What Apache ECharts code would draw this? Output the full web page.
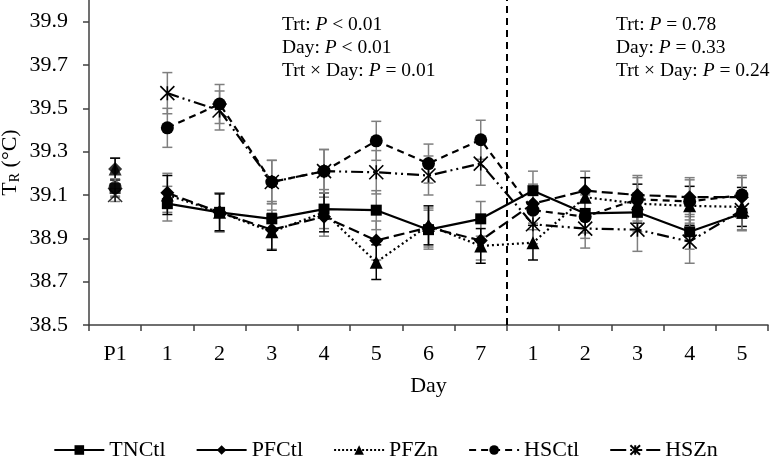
<!DOCTYPE html>
<html>
<head>
<meta charset="utf-8">
<script src="https://cdn.jsdelivr.net/npm/echarts@6/dist/echarts.min.js"></script>
<style>html,body{margin:0;padding:0;background:#fff;}#c{width:771px;height:465px;}</style>
</head>
<body>
<div id="c"></div>
<script>
const categories = ['P1','1','2','3','4','5','6','7','1','2','3','4','5'];
const yTicks = [38.5, 38.7, 38.9, 39.1, 39.3, 39.5, 39.7, 39.9];

const TNCtl = [39.13, 39.06, 39.02, 38.99, 39.035, 39.03, 38.94, 38.99, 39.12, 39.015, 39.02, 38.93, 39.015];
const PFCtl = [39.22, 39.11, 39.02, 38.94, 39.00, 38.89, 38.95, 38.89, 39.06, 39.12, 39.10, 39.09, 39.09];
const PFZn  = [39.22, 39.10, 39.02, 38.93, 39.02, 38.79, 38.96, 38.865, 38.88, 39.09, 39.06, 39.05, 39.045];
const HSCtl = [39.135, 39.41, 39.52, 39.16, 39.21, 39.35, 39.245, 39.355, 39.03, 39.00, 39.08, 39.07, 39.10];
const HSZn  = [39.10, 39.57, 39.49, 39.16, 39.21, 39.205, 39.19, 39.245, 38.965, 38.945, 38.94, 38.885, 39.03];

const TNCtlSE = [0.04, 0.08, 0.09, 0.08, 0.09, 0.09, 0.09, 0.08, 0.09, 0.09, 0.09, 0.08, 0.08];
const PFCtlSE = [0.05, 0.09, 0.09, 0.09, 0.09, 0.09, 0.09, 0.09, 0.09, 0.09, 0.09, 0.09, 0.09];
const PFZnSE  = [0.05, 0.09, 0.085, 0.085, 0.09, 0.08, 0.09, 0.08, 0.08, 0.09, 0.09, 0.09, 0.09];
const HSCtlSE = [0.04, 0.09, 0.09, 0.10, 0.10, 0.09, 0.09, 0.09, 0.09, 0.10, 0.10, 0.10, 0.09];
const HSZnSE  = [0.03, 0.095, 0.09, 0.10, 0.10, 0.10, 0.09, 0.10, 0.09, 0.09, 0.10, 0.10, 0.09];

const dividerAt = 8; // boundary between period 1 and period 2 (category index)

const FONT = '"Liberation Serif", "Times New Roman", serif';

const seriesDefs = [
  {name:'TNCtl', data:TNCtl, se:TNCtlSE, symbol:'rect', size:11, dash:'solid', legendDash:'solid', errColor:'#7f7f7f'},
  {name:'PFCtl', data:PFCtl, se:PFCtlSE, symbol:'diamond', size:14, dash:[11,5], legendDash:'solid', errColor:'#7f7f7f'},
  {name:'PFZn',  data:PFZn,  se:PFZnSE,  symbol:'triangle', size:13, dash:[2,3], legendDash:[2,2], errColor:'#000'},
  {name:'HSCtl', data:HSCtl, se:HSCtlSE, symbol:'circle', size:13, dash:[7,5], legendDash:[7,5], errColor:'#7f7f7f'},
  {name:'HSZn',  data:HSZn,  se:HSZnSE,  symbol:'path://M0,0L10,10M10,0L0,10M5,0L5,10', size:14, dash:[12,4,2,4,2,4], legendDash:[16,4,2,4,6,4], errColor:'#7f7f7f'}
];

const series = [];
seriesDefs.forEach(function(d){
  series.push({
    type:'custom', name:d.name + ' SE', silent:true, z:1,
    data: d.data.map(function(v,i){ return [i, v - d.se[i], v + d.se[i]]; }),
    renderItem: function(params, api){
      const lo = api.coord([api.value(0), api.value(1)]);
      const hi = api.coord([api.value(0), api.value(2)]);
      const w = 5;
      const st = {stroke:d.errColor, lineWidth:1.5};
      return {type:'group', children:[
        {type:'line', shape:{x1:lo[0], y1:lo[1], x2:hi[0], y2:hi[1]}, style:st},
        {type:'line', shape:{x1:lo[0]-w, y1:lo[1], x2:lo[0]+w, y2:lo[1]}, style:st},
        {type:'line', shape:{x1:hi[0]-w, y1:hi[1], x2:hi[0]+w, y2:hi[1]}, style:st}
      ]};
    }
  });
  const isPath = d.symbol.indexOf('path://') === 0;
  const itemStyle = isPath ? {color:'rgba(0,0,0,0)', borderColor:'#000', borderWidth:1.6} : {color:'#000', borderColor:'#000', borderWidth:0};
  series.push({
    type:'line', name:d.name, z:3,
    data: d.data.map(function(v,i){ return i === 0 ? '-' : v; }),
    symbol:d.symbol, symbolSize:d.size, showAllSymbol:true,
    connectNulls:false,
    lineStyle:{color:'#000', width:2.2, type:d.dash},
    itemStyle:itemStyle,
    emphasis:{disabled:true}
  });
  series.push({
    type:'scatter', name:d.name, z:3,
    data: [[0, d.data[0]]],
    symbol:d.symbol, symbolSize:d.size,
    itemStyle:itemStyle
  });
});

series.push({
  type:'line', xAxisIndex:1, data:[], silent:true,
  markLine:{symbol:'none', silent:true, label:{show:false},
    lineStyle:{color:'#000', width:2, type:[7,5]},
    data:[{xAxis:dividerAt}]}
});

function ann(left, lines){
  return {
    type:'text', left:left, top:15,
    style:{
      text: lines.map(function(l){ return '{n|' + l[0] + '}{i|P}{n|' + l[1] + '}'; }).join('\n'),
      rich:{
        n:{fontFamily:FONT, fontSize:19.5, fill:'#000', lineHeight:23},
        i:{fontFamily:FONT, fontSize:19.5, fill:'#000', fontStyle:'italic', lineHeight:23}
      }
    }
  };
}

const option = {
  animation:false,
  backgroundColor:'#fff',
  grid:{left:89, right:3, top:0, bottom:140, containLabel:false, outerBoundsMode:'none'},
  xAxis:[{
    type:'category', data:categories, boundaryGap:true,
    axisLine:{lineStyle:{color:'#404040', width:1.5}},
    axisTick:{show:true, length:6, lineStyle:{color:'#404040', width:1.5}},
    axisLabel:{fontFamily:FONT, fontSize:22, color:'#000', margin:18, interval:0},
    name:'Day', nameLocation:'middle', nameGap:50, nameMoveOverlap:false,
    nameTextStyle:{fontFamily:FONT, fontSize:22, color:'#000'},
    splitLine:{show:false}
  },{
    type:'value', min:0, max:categories.length, show:false
  }],
  yAxis:{
    type:'value', min:yTicks[0], max:40.0, interval:0.2,
    axisLine:{show:true, lineStyle:{color:'#404040', width:1.5}},
    axisTick:{show:true, length:6, lineStyle:{color:'#404040', width:1.5}},
    axisLabel:{fontFamily:FONT, fontSize:22, color:'#000', margin:21, showMaxLabel:false,
      formatter:function(v){ return v.toFixed(1); }},
    splitLine:{show:false},
    name:'{t|T}{s|R}{t| (°C)}', nameLocation:'middle', nameGap:67, nameRotate:90, nameMoveOverlap:false,
    nameTextStyle:{fontFamily:FONT, color:'#000',
      rich:{
        t:{fontFamily:FONT, fontSize:22, color:'#000'},
        s:{fontFamily:FONT, fontSize:14, color:'#000', padding:[10,0,0,0]}
      }}
  },
  legend:{
    data: seriesDefs.map(function(d){ return {name:d.name, lineStyle:{type:d.legendDash, width:2.2, color:'#000'}}; }),
    left:'center', top:434, itemWidth:50, itemHeight:12, itemGap:30,
    textStyle:{fontFamily:FONT, fontSize:22, color:'#000'},
    selectedMode:false
  },
  graphic:[
    ann(282, [['Trt: ',' < 0.01'],['Day: ',' < 0.01'],['Trt × Day: ',' = 0.01']]),
    ann(616, [['Trt: ',' = 0.78'],['Day: ',' = 0.33'],['Trt × Day: ',' = 0.24']])
  ],
  series:series
};

const chart = echarts.init(document.getElementById('c'), null, {renderer:'canvas'});
chart.setOption(option);
</script>
</body>
</html>
